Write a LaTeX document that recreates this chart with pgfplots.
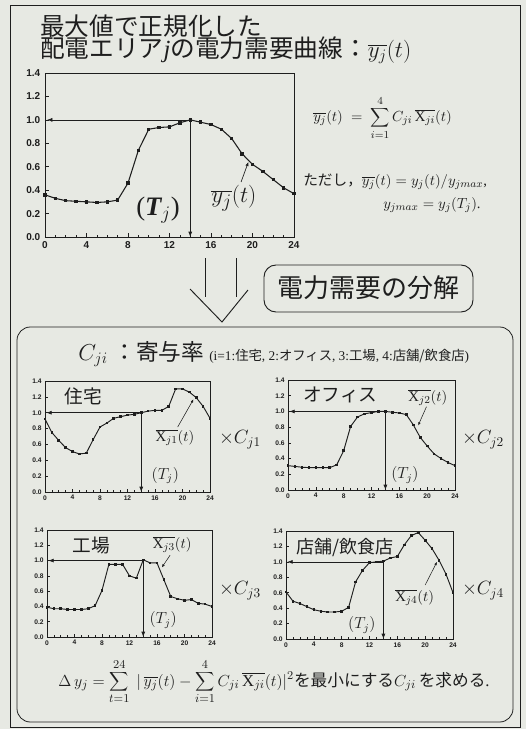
\documentclass[border=0pt]{standalone}
\usepackage{pgfplots}
\pgfplotsset{compat=1.18}
\usepackage{fontspec}
\setmainfont{Liberation Serif}
\setsansfont{Liberation Sans}
\newfontfamily\jp{Noto Sans CJK JP}
\usetikzlibrary{arrows.meta}
\definecolor{paper}{RGB}{231,233,227}
\definecolor{ink}{RGB}{30,30,30}
\tikzset{
  arr/.style={ink, line width=0.5pt, -{Latex[length=4pt,width=3pt]}},
  sarr/.style={ink, line width=0.4pt, -{Latex[length=2.5pt,width=2pt]}},
}
\pgfplotsset{
  base/.style={scale only axis, xmin=0, xmax=24, ymin=0, ymax=1.4,
    xtick={0,4,8,12,16,20,24}, ytick={0,0.2,0.4,0.6,0.8,1.0,1.2,1.4},
    minor xtick={1,...,23},
    tick align=inside, tick pos=left, clip=false,
    axis line style={ink, line width=0.6pt},
    every tick/.style={ink, line width=0.5pt},
    yticklabel style={/pgf/number format/fixed, /pgf/number format/fixed zerofill, /pgf/number format/precision=1},
    /pgf/number format/assume math mode=true,
  },
  mainax/.style={base, major tick length=3pt, minor tick length=1.8pt,
    tick label style={font=\sffamily\bfseries\fontsize{7.5}{8}\selectfont, text=ink}},
  smallax/.style={base, major tick length=2pt, minor tick length=1.2pt,
    tick label style={font=\sffamily\bfseries\fontsize{5}{6}\selectfont, text=ink},
    xticklabel style={yshift=1pt}, yticklabel style={xshift=1pt}},
  curve/.style={ink, line width=0.8pt, mark=square*, mark size=0.9pt, mark options={solid}},
  scurve/.style={ink, line width=0.7pt, mark=square*, mark size=0.6pt},
}
\begin{document}
\begin{tikzpicture}
\begin{scope}[x=0.75pt,y=-0.75pt]
\fill[paper] (0,0) rectangle (526,729);
\draw[ink, line width=0.6pt] (10,5) rectangle (520,727);
\draw[ink, line width=0.6pt, rounded corners=10pt] (17,327) rectangle (513,722);
% down arrow
\draw[ink, line width=0.7pt] (205,258) -- (205,297);
\draw[ink, line width=0.7pt] (236,258) -- (236,297);
\draw[ink, line width=0.7pt] (190,289) -- (222,322) -- (248,290);
\draw[ink, line width=0.7pt, rounded corners=9pt] (264,265) rectangle (473,312);
\node[ink] at (368,288) {\jp\fontsize{19.5}{20}\selectfont 電力需要の分解};
% title
\node[ink, anchor=west, inner sep=0pt] at (40,26) {\jp\fontsize{18.5}{19}\selectfont 最大値で正規化した};
\node[ink, anchor=west, inner sep=0pt] at (40,50) {\jp\fontsize{18.5}{19}\selectfont 配電エリア{\rmfamily\itshape j}の電力需要曲線：\rmfamily$\overline{y_j}(t)$};
% formulas
\node[ink, anchor=west, inner sep=0pt] at (313,118) {\fontsize{11}{12}\selectfont $\overline{y_j}(t)\;=\;\displaystyle\sum_{i=1}^{4} C_{ji}\,\overline{\mathrm{X}_{ji}}(t)$};
\node[ink, anchor=west, inner sep=0pt] at (303,182) {\fontsize{11}{12}\selectfont {\jp ただし，}$\overline{y_j}(t)=y_j(t)/y_{jmax}$,};
\node[ink, anchor=west, inner sep=0pt] at (383,205) {\fontsize{11}{12}\selectfont $y_{jmax}=y_j(T_j)$.};
% panel heading
\node[ink, anchor=west, inner sep=0pt] at (78,354) {\fontsize{17}{18}\selectfont $C_{ji}$\ {\jp ：寄与率}};
\node[ink, anchor=west, inner sep=0pt] at (209,356) {\fontsize{10}{11}\selectfont (i=1:{\jp 住宅},\ 2:{\jp オフィス},\ 3:{\jp 工場},\ 4:{\jp 店舗/飲食店})};
% x C labels
\node[ink] at (240,440) {\fontsize{14}{15}\selectfont $\times C_{j1}$};
\node[ink] at (483,440) {\fontsize{14}{15}\selectfont $\times C_{j2}$};
\node[ink] at (240,591) {\fontsize{14}{15}\selectfont $\times C_{j3}$};
\node[ink] at (483,591) {\fontsize{14}{15}\selectfont $\times C_{j4}$};
% bottom formula
\node[ink] at (274,682) {\fontsize{12.5}{13}\selectfont $\Delta\, y_j=\displaystyle\sum_{t=1}^{24}\;|\,\overline{y_j}(t)-\sum_{i=1}^{4}C_{ji}\,\overline{\mathrm{X}_{ji}}(t)|^2${\jp を最小にする}$C_{ji}$\,{\jp を求める}.};
\end{scope}

% main axis
\begin{axis}[mainax, at={(33.75pt,-177.75pt)}, anchor=south west, width=186.75pt, height=123pt]
\addplot[curve] coordinates {(0,0.36)(1,0.33)(2,0.31)(3,0.305)(4,0.30)(5,0.295)(6,0.30)(7,0.315)(8,0.46)(9,0.74)(10,0.92)(11,0.935)(12,0.94)(13,0.975)(14,1.0)(15,0.98)(16,0.96)(17,0.92)(18,0.84)(19,0.71)(20,0.62)(21,0.56)(22,0.49)(23,0.42)(24,0.37)};
\draw[arr] (axis cs:14,1.0) -- (axis cs:0.2,1.0);
\draw[arr] (axis cs:14,1.0) -- (axis cs:14,0.0);
\node[ink] at (axis cs:10.9,0.23) {\fontsize{20}{21}\selectfont ({\bfseries\itshape T}$_{j}$)};
\node[ink] at (axis cs:18.2,0.33) {\fontsize{19}{20}\selectfont $\overline{y_j}(t)$};
\draw[ink, line width=0.5pt, -{Latex[length=3pt,width=2.5pt]}] (axis cs:18.9,0.47) -- (axis cs:19.6,0.64);
\end{axis}

% plot 1
\begin{axis}[smallax, at={(33.75pt,-369pt)}, anchor=south west, width=123.75pt, height=83.25pt]
\addplot[scurve] coordinates {(0,0.92)(1,0.75)(2,0.65)(3,0.56)(4,0.51)(5,0.48)(6,0.49)(7,0.66)(8,0.82)(9,0.87)(10,0.93)(11,0.95)(12,0.97)(13,0.98)(14,1.0)(15,1.02)(16,1.03)(17,1.03)(18,1.08)(19,1.30)(20,1.30)(21,1.26)(22,1.19)(23,1.08)(24,0.93)};
\draw[arr] (axis cs:14,1.0) -- (axis cs:0.2,1.0);
\draw[arr] (axis cs:14,1.0) -- (axis cs:14,0.0);
\node[ink, anchor=west] at (axis cs:2.2,1.21) {\jp\fontsize{14}{15}\selectfont 住宅};
\node[ink] at (axis cs:18.9,0.69) {\fontsize{11}{12}\selectfont $\overline{\mathrm{X}_{j1}}(t)$};
\draw[sarr] (axis cs:19.3,0.82) -- (axis cs:21.6,1.17);
\node[ink] at (axis cs:17.5,0.21) {\fontsize{12}{13}\selectfont $(T_j)$};
\end{axis}

% plot 2
\begin{axis}[smallax, at={(216pt,-367.5pt)}, anchor=south west, width=125.25pt, height=82.5pt]
\addplot[scurve] coordinates {(0,0.31)(1,0.30)(2,0.29)(3,0.285)(4,0.285)(5,0.285)(6,0.285)(7,0.32)(8,0.50)(9,0.81)(10,0.93)(11,0.97)(12,0.985)(13,1.0)(14,1.0)(15,0.99)(16,0.98)(17,0.96)(18,0.83)(19,0.67)(20,0.56)(21,0.46)(22,0.40)(23,0.35)(24,0.31)};
\draw[arr] (axis cs:14,1.0) -- (axis cs:0.2,1.0);
\draw[arr] (axis cs:14,1.0) -- (axis cs:14,0.0);
\node[ink, anchor=west] at (axis cs:1.5,1.21) {\jp\fontsize{14}{15}\selectfont オフィス};
\node[ink] at (axis cs:20.1,1.18) {\fontsize{11}{12}\selectfont $\overline{\mathrm{X}_{j2}}(t)$};
\draw[sarr] (axis cs:19.9,1.06) -- (axis cs:18.7,0.82);
\node[ink] at (axis cs:16.8,0.19) {\fontsize{12}{13}\selectfont $(T_j)$};
\end{axis}

% plot 3
\begin{axis}[smallax, at={(35.25pt,-477.75pt)}, anchor=south west, width=123.75pt, height=80.25pt]
\addplot[scurve] coordinates {(0,0.39)(1,0.37)(2,0.37)(3,0.36)(4,0.36)(5,0.36)(6,0.37)(7,0.41)(8,0.61)(9,0.95)(10,0.95)(11,0.95)(12,0.80)(13,0.77)(14,1.01)(15,0.97)(16,0.97)(17,0.75)(18,0.53)(19,0.50)(20,0.48)(21,0.49)(22,0.44)(23,0.43)(24,0.40)};
\draw[arr] (axis cs:14,1.0) -- (axis cs:0.2,1.0);
\draw[arr] (axis cs:14,1.0) -- (axis cs:14,0.0);
\node[ink, anchor=west] at (axis cs:3.0,1.20) {\jp\fontsize{14}{15}\selectfont 工場};
\node[ink] at (axis cs:18.2,1.21) {\fontsize{11}{12}\selectfont $\overline{\mathrm{X}_{j3}}(t)$};
\draw[sarr] (axis cs:17.9,1.07) -- (axis cs:16.7,0.91);
\node[ink] at (axis cs:16.9,0.22) {\fontsize{12}{13}\selectfont $(T_j)$};
\end{axis}

% plot 4
\begin{axis}[smallax, at={(214.5pt,-479.25pt)}, anchor=south west, width=125.25pt, height=81pt]
\addplot[scurve] coordinates {(0,0.61)(1,0.49)(2,0.46)(3,0.42)(4,0.38)(5,0.36)(6,0.35)(7,0.35)(8,0.36)(9,0.41)(10,0.74)(11,0.89)(12,0.99)(13,1.0)(14,1.01)(15,1.05)(16,1.07)(17,1.22)(18,1.34)(19,1.38)(20,1.28)(21,1.17)(22,1.02)(23,0.84)(24,0.60)};
\draw[arr] (axis cs:14,1.0) -- (axis cs:0.2,1.0);
\draw[arr] (axis cs:14,1.0) -- (axis cs:14,0.0);
\node[ink, anchor=west] at (axis cs:0.8,1.19) {\jp\fontsize{13.5}{14}\selectfont 店舗/飲食店};
\node[ink] at (axis cs:18.5,0.54) {\fontsize{11}{12}\selectfont $\overline{\mathrm{X}_{j4}}(t)$};
\draw[sarr] (axis cs:20,0.70) -- (axis cs:21.7,1.0);
\node[ink] at (axis cs:10.9,0.18) {\fontsize{12}{13}\selectfont $(T_j)$};
\end{axis}
\end{tikzpicture}
\end{document}
